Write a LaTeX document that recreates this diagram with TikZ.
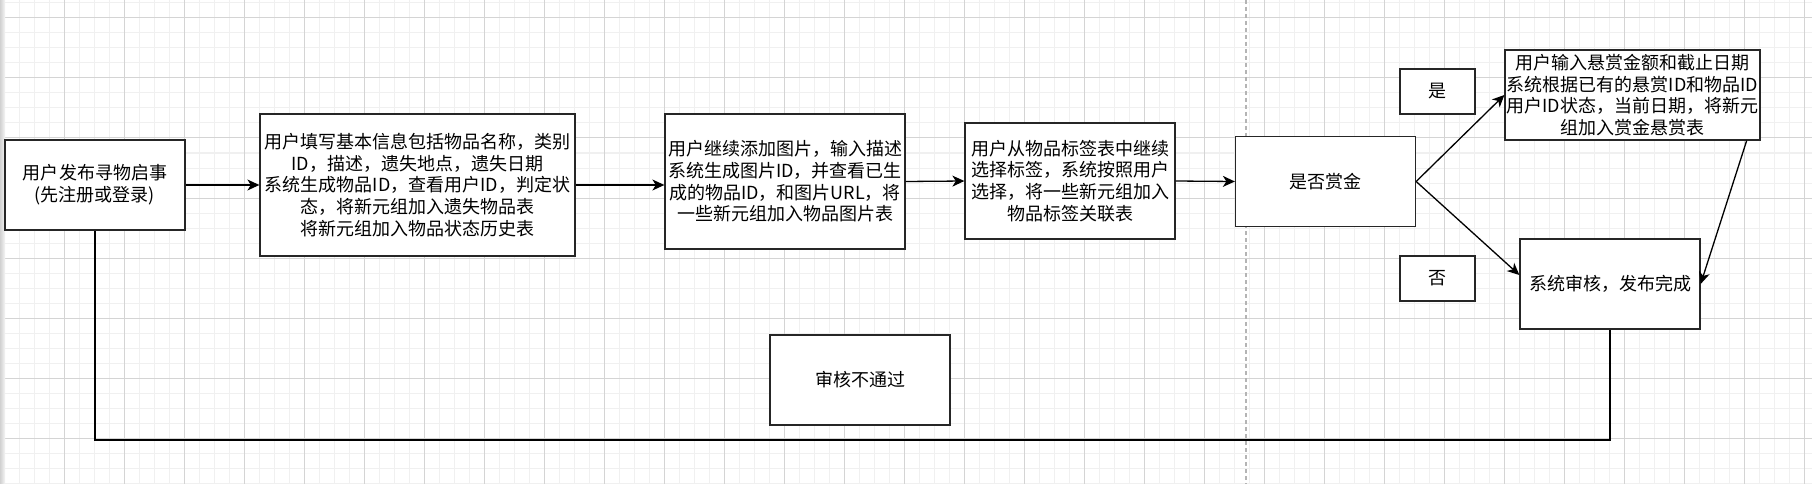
\documentclass[tikz,border=0pt]{standalone}
\usepackage{fontspec}
\setmainfont{Noto Sans CJK SC}
\usetikzlibrary{arrows.meta,calc}
\definecolor{gmajor}{HTML}{D4D4D4}
\definecolor{gminor}{HTML}{F0F0F0}
\definecolor{pbreak}{HTML}{B4B4B4}
\definecolor{boxline}{HTML}{262626}
\tikzset{
  box/.style={draw=boxline, line width=1.3pt, fill=white, inner sep=0pt, align=center,
    font=\fontsize{18pt}{21.7pt}\selectfont},
  conn/.style={line width=1.3pt, draw=black, -{Stealth[length=12pt,width=11pt,inset=3.5pt]}},
  plain/.style={line width=1.3pt, draw=black},
  minorgrid/.style={draw=gminor, line width=1pt},
  majorgrid/.style={draw=gmajor, line width=1pt},
  pagebreak/.style={draw=pbreak, line width=1.2pt, dash pattern=on 4pt off 3pt}
}
\begin{document}
\begin{tikzpicture}[x=1pt,y=-1pt]
\useasboundingbox (0,0) rectangle (1812,484);
\fill[white] (0,0) rectangle (1812,484);
% grid
\foreach \x in {4,19,...,1812} \draw[minorgrid] (\x,0) -- (\x,484);
\foreach \y in {3,18,...,484} \draw[minorgrid] (5,\y) -- (1812,\y);
\foreach \x in {4,64,...,1812} \draw[majorgrid] (\x,0) -- (\x,484);
\foreach \y in {18,78,...,484} \draw[majorgrid] (5,\y) -- (1812,\y);
\shade[left color=black!18, right color=black!4] (0,0) rectangle (5,484);
% page break
\draw[pagebreak] (1246,0) -- (1246,484);

% nodes
\node[box, minimum width=180pt, minimum height=90pt] (b1) at (95,185)
  {用户发布寻物启事\\(先注册或登录)};
\node[box, minimum width=315pt, minimum height=142pt] (b2) at (417.5,185)
  {用户填写基本信息包括物品名称，类别\\ID，描述，遗失地点，遗失日期\\系统生成物品ID，查看用户ID，判定状\\态，将新元组加入遗失物品表\\将新元组加入物品状态历史表};
\node[box, minimum width=240pt, minimum height=135pt] (b3) at (785,181.5)
  {用户继续添加图片，输入描述\\系统生成图片ID，并查看已生\\成的物品ID，和图片URL，将\\一些新元组加入物品图片表};
\node[box, minimum width=210pt, minimum height=116pt] (b4) at (1070,181)
  {用户从物品标签表中继续\\选择标签，系统按照用户\\选择，将一些新元组加入\\物品标签关联表};
\node[box, minimum width=180pt, minimum height=90pt] (q) at (1325.5,181.5) {是否赏金};
\node[box, minimum width=75pt, minimum height=45pt] (yes) at (1437.5,91.5) {是};
\node[box, minimum width=75pt, minimum height=45pt] (no) at (1437.5,278.5) {否};
\node[box, minimum width=255pt, minimum height=90pt] (r) at (1632.5,95)
  {用户输入悬赏金额和截止日期\\系统根据已有的悬赏ID和物品ID\\用户ID状态，当前日期，将新元\\组加入赏金悬赏表};
\node[box, minimum width=180pt, minimum height=90pt] (c) at (1610,284) {系统审核，发布完成};
\node[box, minimum width=180pt, minimum height=90pt] (fail) at (860,380) {审核不通过};

% connectors
\draw[conn] (b1.east) -- (b2.west);
\draw[conn] (b2.east) -- (b2.east -| b3.west);
\draw[conn] (b3.east) -- (b4.west);
\draw[conn] (b4.east) -- (q.west);
\draw[conn] (q.east) -- (r.west);
\draw[conn] (q.east) -- ($(c.west)+(0,-9)$);
\draw[conn] ($(r.south east)+(-14,0)$) -- (c.east);
\coordinate (loopy) at (0,440);
\draw[plain] (c.south) -- (c.south |- loopy) -- (b1.south |- loopy) -- (b1.south);
\end{tikzpicture}
\end{document}
